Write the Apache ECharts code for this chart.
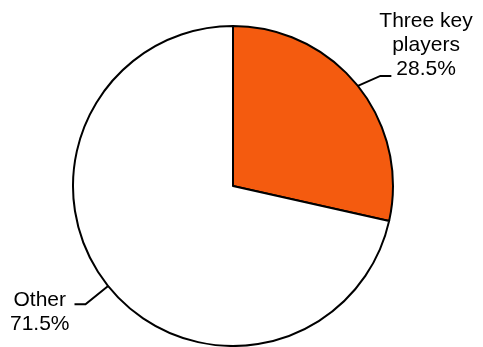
<!DOCTYPE html>
<html>
<head>
<meta charset="utf-8">
<script src="https://cdn.jsdelivr.net/npm/echarts@6/dist/echarts.min.js"></script>
<style>
  html, body { margin: 0; padding: 0; background: #fff; }
  #main { width: 483px; height: 347px; }
</style>
</head>
<body>
<div id="main"></div>
<script>
// slice names and shares (%)
const names = ['Three key\nplayers', 'Other'];
const shares = [28.5, 71.5];
const colors = ['#F45B0F', '#FFFFFF'];

// per-slice label tweaks
const labelPad = [[0, 0, 62, 0], [16, 0, 0, 0]];
const lineLen = [[16, 4], [29, 11]];
// extra horizontal shift of the label-line bend / end (right label reaches under the text)
const lineShift = [[10, 17], [0, 0]];

const chart = echarts.init(document.getElementById('main'), null, { renderer: 'canvas' });

const data = names.map((n, i) => ({
  name: n,
  value: shares[i],
  itemStyle: { color: colors[i] },
  label: { padding: labelPad[i] },
  labelLine: { length: lineLen[i][0], length2: lineLen[i][1] }
}));

chart.setOption({
  animation: false,
  series: [{
    type: 'pie',
    center: [233, 186],
    radius: 160,
    startAngle: 90,
    clockwise: true,
    avoidLabelOverlap: false,
    data: data,
    itemStyle: { borderColor: '#000', borderWidth: 2 },
    emphasis: { disabled: true },
    label: {
      show: true,
      position: 'outside',
      formatter: function (p) {
        var lines = p.name.split('\n').map(function (s) { return '{t|' + s + '}'; });
        lines.push('{t|' + p.value.toFixed(1) + '%}');
        return lines.join('\n');
      },
      rich: {
        t: {
          align: 'center',
          fontFamily: 'Liberation Sans',
          fontSize: 21,
          lineHeight: 24,
          color: '#000'
        }
      }
    },
    labelLine: {
      show: true,
      smooth: false,
      lineStyle: { color: '#000', width: 2 }
    },
    labelLayout: function (params) {
      var pts = params.labelLinePoints;
      if (!pts) return {};
      var s = lineShift[params.dataIndex];
      return {
        labelLinePoints: [
          pts[0],
          [pts[1][0] + s[0], pts[1][1]],
          [pts[2][0] + s[1], pts[2][1]]
        ]
      };
    }
  }]
});
</script>
</body>
</html>
